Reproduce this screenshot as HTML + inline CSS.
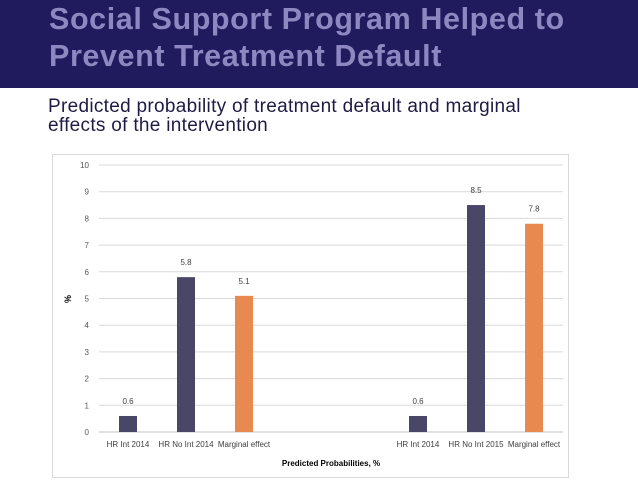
<!DOCTYPE html>
<html><head><meta charset="utf-8"><style>
body{margin:0;width:638px;height:493px;background:#fff;overflow:hidden;font-family:"Liberation Sans",sans-serif}
#banner{position:absolute;left:0;top:0;width:638px;height:88px;background:#201b5c}
#title{position:absolute;left:49px;top:1px;color:#8e88c2;font-weight:bold;font-size:30.5px;line-height:37px;letter-spacing:0.6px}
#sub{position:absolute;left:48px;top:97px;color:#201b45;font-size:19px;line-height:19px;letter-spacing:0.3px}
#box{position:absolute;left:52px;top:154px;width:517px;height:324px;border:1px solid #d9d9d9;box-sizing:border-box}
svg{position:absolute;left:0;top:0}
</style></head><body>
<div id="banner"></div>
<div id="title">Social Support Program Helped to<br>Prevent Treatment Default</div>
<div id="sub">Predicted probability of treatment default and marginal<br>effects of the intervention</div>
<div id="box"></div>
<svg id="chart" width="638" height="493"></svg>
<script>
const categories=["HR Int 2014","HR No Int 2014","Marginal effect","","","HR Int 2014","HR No Int 2015","Marginal effect"];
const values=[0.6,5.8,5.1,null,null,0.6,8.5,7.8];
const kinds=["p","p","m",null,null,"p","p","m"];
const yTicks=[0,1,2,3,4,5,6,7,8,9,10];
const NS="http://www.w3.org/2000/svg";
const svg=document.getElementById('chart');
const x0=99,slot=58,y0=432,yTop=165,ymax=10;
const y=v=>y0-(v/ymax)*(y0-yTop);
const xc=i=>x0+slot*(i+0.5);
function mk(t,a,txt){const e=document.createElementNS(NS,t);for(const k in a)e.setAttribute(k,a[k]);if(txt!=null)e.textContent=txt;svg.appendChild(e);return e;}
yTicks.forEach(t=>{
 const l=mk('line',{x1:x0,x2:x0+slot*categories.length,y1:y(t),y2:y(t),stroke:t===0?'#bfbfbf':'#d9d9d9','stroke-width':1});
 
 
 const tx=mk('text',{x:89,y:y(t)+3,'text-anchor':'end','font-size':8,fill:'#595959'},t);
 
 
});
categories.forEach((c,i)=>{
 if(c){const t=mk('text',{x:xc(i),y:447,'text-anchor':'middle','font-size':8,fill:'#404040'},c);
 
 }
 if(values[i]!=null){
  const b=mk('rect',{x:xc(i)-9,y:y(values[i]),width:18,height:y0-y(values[i]),fill:kinds[i]==='m'?'#e8894f':'#4a4668'});
  
  
  const v=mk('text',{x:xc(i),y:y(values[i])-12,'text-anchor':'middle','font-size':8,fill:'#404040'},values[i].toFixed(1));
  
  
 }
});
const xt=mk('text',{x:331,y:466,'text-anchor':'middle','font-size':8,'font-weight':'bold',fill:'#000'},'Predicted Probabilities, %');


const yt=mk('text',{x:0,y:0,transform:'translate(71,299) rotate(-90)','text-anchor':'middle','font-size':9,'font-weight':'bold',fill:'#000'},'%');


</script>
</body></html>
